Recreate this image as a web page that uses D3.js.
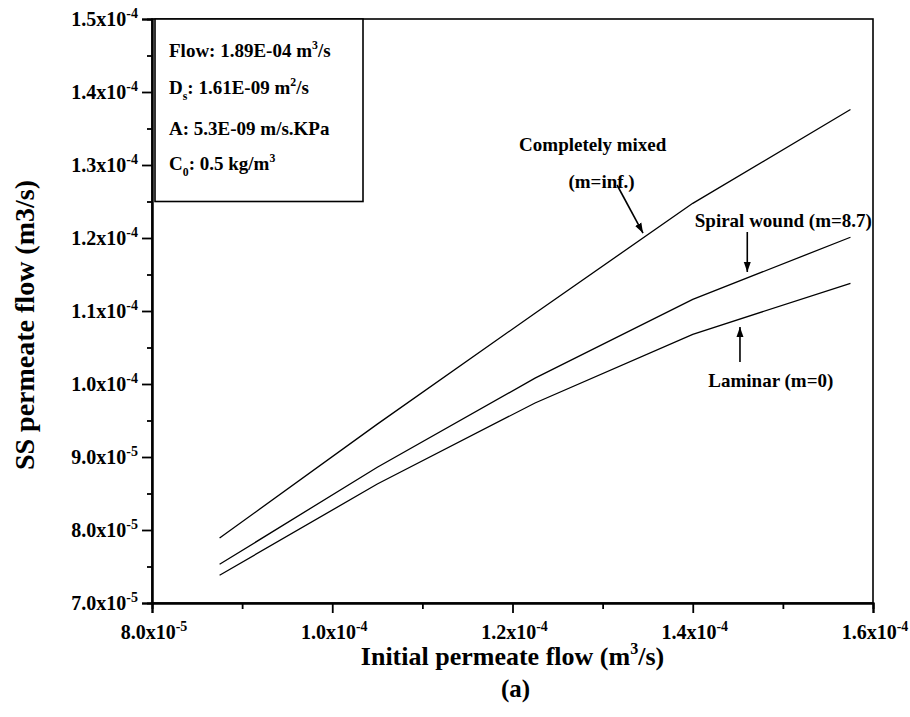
<!DOCTYPE html>
<html>
<head>
<meta charset="utf-8">
<script src="https://cdn.jsdelivr.net/npm/d3@7"></script>
<style>
  html, body { margin: 0; padding: 0; background: #fff; }
  svg { display: block; }
  text { font-family: "Liberation Serif", "Times New Roman", serif; font-weight: bold; fill: #000; }
</style>
</head>
<body>
<svg id="chart" width="910" height="717"></svg>
<script>
// Initial permeate flow (m^3/s) at which each model was evaluated
const initialFlow = [8.75e-5, 1.05e-4, 1.225e-4, 1.4e-4, 1.575e-4];

// Steady-state permeate flow (m^3/s) for the three mixing models
const completelyMixed = [7.89e-5, 9.45e-5, 1.097e-4, 1.2475e-4, 1.376e-4];
const spiralWound     = [7.53e-5, 8.86e-5, 1.008e-4, 1.116e-4, 1.201e-4];
const laminar         = [7.38e-5, 8.63e-5, 9.74e-5, 1.068e-4, 1.138e-4];

// Axis ranges and tick values
const xDomain = [8.0e-5, 1.6e-4];
const yDomain = [7.0e-5, 1.5e-4];
const xMajorTicks = [8.0e-5, 1.0e-4, 1.2e-4, 1.4e-4, 1.6e-4];
const xMinorTicks = [9.0e-5, 1.1e-4, 1.3e-4, 1.5e-4];
const yMajorTicks = [7.0e-5, 8.0e-5, 9.0e-5, 1.0e-4, 1.1e-4, 1.2e-4, 1.3e-4, 1.4e-4, 1.5e-4];
const yMinorTicks = [7.5e-5, 8.5e-5, 9.5e-5, 1.05e-4, 1.15e-4, 1.25e-4, 1.35e-4, 1.45e-4];

// Parameter box lines: each part is plain, superscript or subscript
const paramLines = [
  [{t: "Flow: 1.89E-04 m"}, {t: "3", sup: true}, {t: "/s"}],
  [{t: "D"}, {t: "s", sub: true}, {t: ": 1.61E-09 m"}, {t: "2", sup: true}, {t: "/s"}],
  [{t: "A: 5.3E-09 m/s.KPa"}],
  [{t: "C"}, {t: "0", sub: true}, {t: ": 0.5 kg/m"}, {t: "3", sup: true}]
];

// Curve labels with their arrows (in data units)
const curveLabels = [
  {lines: ["Completely mixed", "(m=inf.)"], x: [1.289e-4, 1.2988e-4], y: [1.3192e-4, 1.2685e-4],
   arrow: {x1: 1.316e-4, y1: 1.2726e-4, x2: 1.3448e-4, y2: 1.2068e-4}},
  {lines: ["Spiral wound (m=8.7)"], x: [1.5005e-4], y: [1.215e-4],
   arrow: {x1: 1.4605e-4, y1: 1.2082e-4, x2: 1.4605e-4, y2: 1.1534e-4}},
  {lines: ["Laminar (m=0)"], x: [1.4866e-4], y: [9.96e-5],
   arrow: {x1: 1.4524e-4, y1: 1.0301e-4, x2: 1.4524e-4, y2: 1.0781e-4}}
];

const margin = {left: 152, top: 19, right: 37, bottom: 114};
const W = 910, H = 717;
const plotW = W - margin.left - margin.right;
const plotH = H - margin.top - margin.bottom;

const svg = d3.select("#chart");
const g = svg.append("g").attr("transform", `translate(${margin.left},${margin.top})`);

const x = d3.scaleLinear().domain(xDomain).range([0, plotW]);
const y = d3.scaleLinear().domain(yDomain).range([plotH, 0]);

// Writes "m.mx10^e" with a superscript exponent
function sciParts(v) {
  const e = Math.floor(Math.log10(v) + 1e-9);
  const m = v / Math.pow(10, e);
  return [{t: m.toFixed(1) + "x10"}, {t: String(e), sup: true}];
}

function richText(sel, parts, size, supScale = 0.62) {
  let shift = 0;
  parts.forEach(p => {
    const target = p.sup ? -0.42 * size : (p.sub ? 0.32 * size : 0);
    const ts = sel.append("tspan").attr("dy", target - shift).text(p.t);
    if (p.sup || p.sub) ts.attr("font-size", size * supScale);
    shift = target;
  });
}

// Frame
g.append("rect").attr("x", 0).attr("y", 0).attr("width", plotW).attr("height", plotH)
  .attr("fill", "none").attr("stroke", "#000").attr("stroke-width", 1.6);

// Bottom axis
g.append("g").attr("transform", `translate(0,${plotH})`)
  .call(d3.axisBottom(x).tickValues(xMajorTicks).tickSize(10).tickFormat(""));
g.append("g").attr("transform", `translate(0,${plotH})`)
  .call(d3.axisBottom(x).tickValues(xMinorTicks).tickSize(6).tickFormat(""));

// Left axis
g.append("g").call(d3.axisLeft(y).tickValues(yMajorTicks).tickSize(10).tickFormat(""));
g.append("g").call(d3.axisLeft(y).tickValues(yMinorTicks).tickSize(5).tickFormat(""));

g.selectAll(".domain").attr("stroke", "#000").attr("stroke-width", 2);
g.selectAll(".tick line").attr("stroke", "#000").attr("stroke-width", 1.8);

// Tick labels
const tickSize = 20;
xMajorTicks.forEach(v => {
  const t = g.append("text").attr("x", x(v) + 2).attr("y", plotH + 36)
    .attr("text-anchor", "middle").attr("font-size", tickSize);
  richText(t, sciParts(v), tickSize, 0.7);
});
yMajorTicks.forEach(v => {
  const t = g.append("text").attr("x", -14).attr("y", y(v) + 7)
    .attr("text-anchor", "end").attr("font-size", tickSize);
  richText(t, sciParts(v), tickSize, 0.7);
});

// Curves
const line = d3.line().x((d, i) => x(initialFlow[i])).y(d => y(d));
[completelyMixed, spiralWound, laminar].forEach(series => {
  g.append("path").datum(series).attr("d", line)
    .attr("fill", "none").attr("stroke", "#000").attr("stroke-width", 1.3);
});

// Arrowhead
svg.append("defs").append("marker")
  .attr("id", "head").attr("viewBox", "0 0 10 10").attr("refX", 10).attr("refY", 5)
  .attr("markerWidth", 10).attr("markerHeight", 10).attr("markerUnits", "userSpaceOnUse")
  .attr("orient", "auto")
  .append("path").attr("d", "M0,1.5 L10,5 L0,8.5 Z").attr("fill", "#000");

curveLabels.forEach(c => {
  c.lines.forEach((s, i) => {
    g.append("text").attr("x", x(c.x[i])).attr("y", y(c.y[i]))
      .attr("text-anchor", "middle").attr("font-size", 19).text(s);
  });
  const a = c.arrow;
  g.append("line").attr("x1", x(a.x1)).attr("y1", y(a.y1)).attr("x2", x(a.x2)).attr("y2", y(a.y2))
    .attr("stroke", "#000").attr("stroke-width", 1.6).attr("marker-end", "url(#head)");
});

// Parameter box
const box = g.append("g").attr("transform", "translate(3,0)");
box.append("rect").attr("x", 0).attr("y", 0).attr("width", 208).attr("height", y(1.25e-4))
  .attr("fill", "#fff").attr("stroke", "#000").attr("stroke-width", 1.6);
const lineY = [38, 75, 116, 151];
paramLines.forEach((parts, i) => {
  const t = box.append("text").attr("x", 14).attr("y", lineY[i]).attr("font-size", 19);
  richText(t, parts, 19);
});

// Axis titles
const xt = svg.append("text").attr("x", margin.left + plotW / 2).attr("y", 665)
  .attr("text-anchor", "middle").attr("font-size", 26);
richText(xt, [{t: "Initial permeate flow (m"}, {t: "3", sup: true}, {t: "/s)"}], 26);

svg.append("text").attr("x", margin.left + plotW / 2 + 3).attr("y", 697)
  .attr("text-anchor", "middle").attr("font-size", 25).text("(a)");

svg.append("text").attr("transform", `translate(34,${margin.top + plotH / 2 + 14}) rotate(-90)`)
  .attr("text-anchor", "middle").attr("font-size", 28).text("SS permeate flow (m3/s)");
</script>
</body>
</html>
